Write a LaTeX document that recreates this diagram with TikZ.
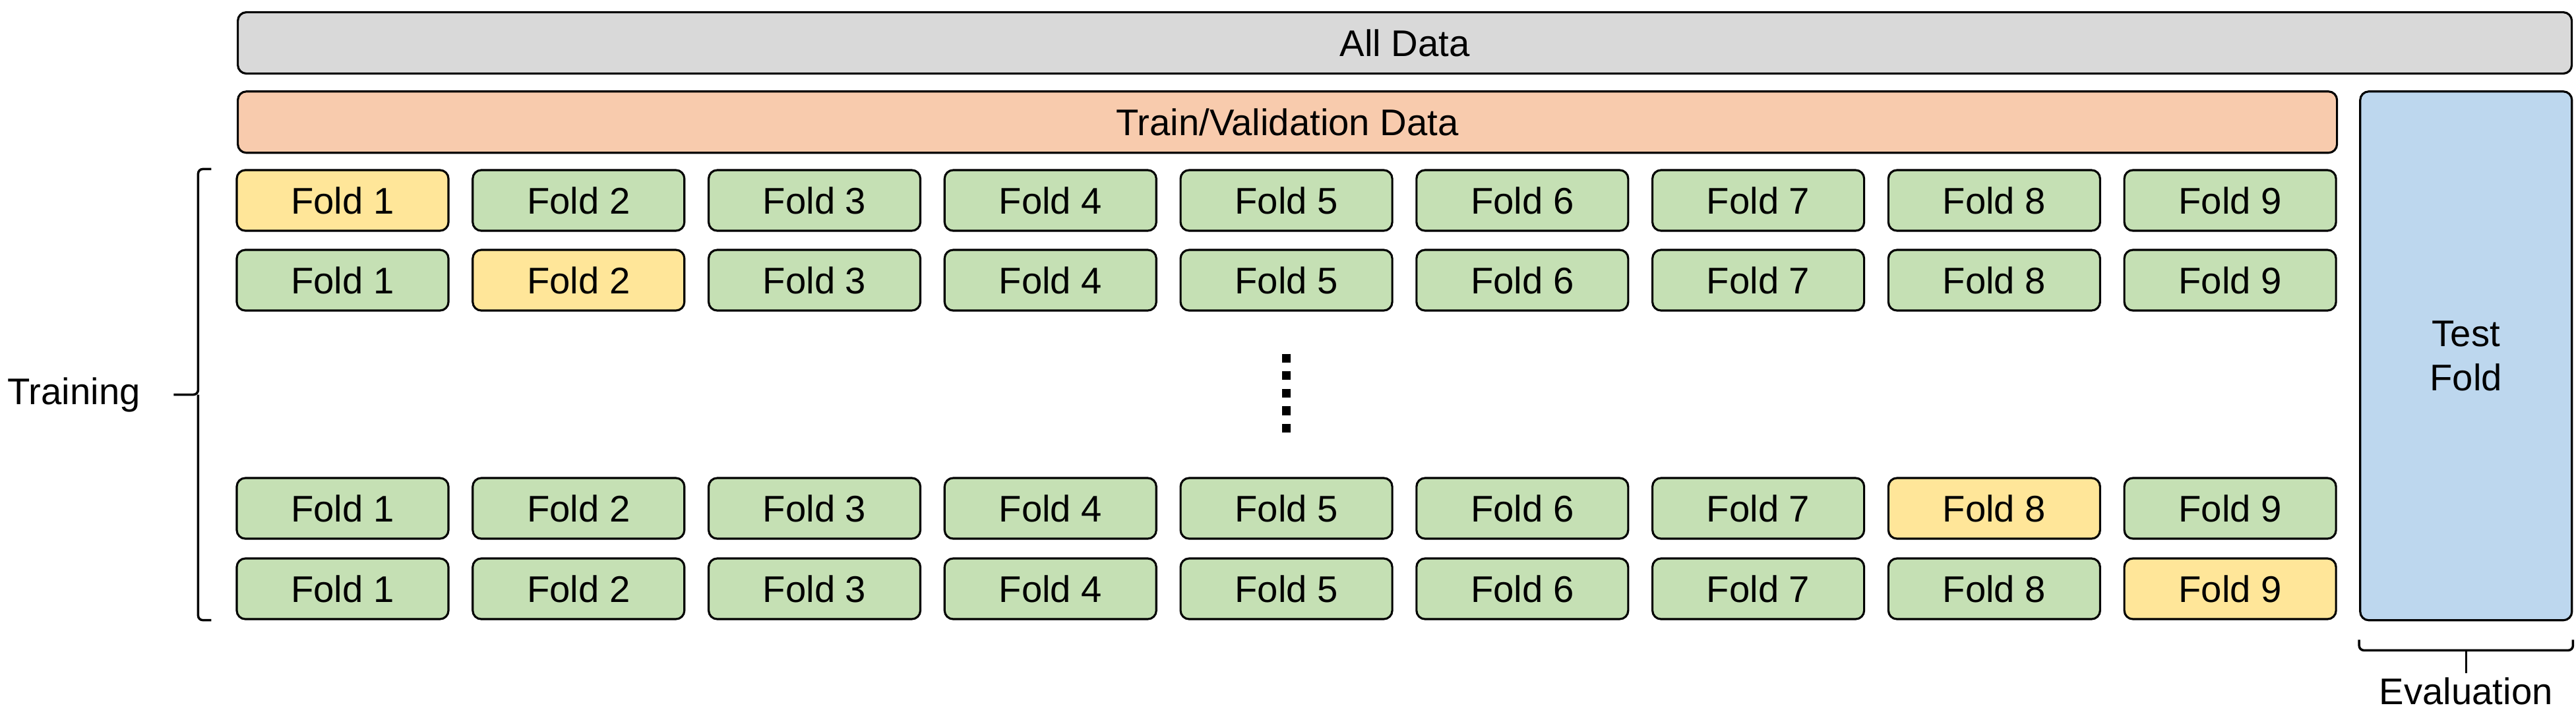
\documentclass[tikz,border=0pt]{standalone}
\usepackage{fontspec}
\setmainfont{Liberation Sans}
\usetikzlibrary{positioning,calc}
\definecolor{alldata}{HTML}{D9D9D9}
\definecolor{trainval}{HTML}{F8CBAD}
\definecolor{trainfold}{HTML}{C5E0B4}
\definecolor{heldout}{HTML}{FFE699}
\definecolor{testfold}{HTML}{BDD7EE}
\tikzset{
  box/.style={draw, line width=0.9pt, rounded corners=0.13cm, inner sep=0pt,
    font=\fontsize{16}{19}\selectfont},
  fold/.style={box, minimum width=3.21cm, minimum height=0.92cm},
  bar/.style={box, minimum height=0.93cm, anchor=north west},
  brace/.style={line width=1pt, rounded corners=2pt},
  dots/.style={line width=0.13cm, dash pattern=on 0.133cm off 0.133cm},
  lbl/.style={inner sep=0pt, font=\fontsize{16}{19}\selectfont}
}

\begin{document}
\begin{tikzpicture}[node distance=0.336cm]
    \useasboundingbox (0,0) rectangle (39.06,-10.88);
    \node[bar, fill=alldata, minimum width=35.39cm] (all) at (3.59,-0.17) {All Data};
    \node[bar, fill=trainval, minimum width=31.83cm, below=0.24cm of all.south west, anchor=north west] (tv) {Train/Validation Data};
    \node[bar, fill=testfold, minimum width=3.21cm, minimum height=8.02cm, align=center, right=0.32cm of tv.north east, anchor=north west] (test) {Test\\Fold};

    % folds, one row per split
    \foreach \r/\y/\hl in {1/-3.04/1, 2/-4.25/2, 3/-7.71/8, 4/-8.93/9} {
        \foreach \c in {1,...,9} {
            \ifnum\c=\hl \def\fc{heldout}\else \def\fc{trainfold}\fi
            \pgfmathtruncatemacro\p{\c-1}
            \ifnum\c=1
                \node[fold, fill=\fc] (r\r c\c) at (5.195,\y) {Fold \c};
            \else
                \node[fold, fill=\fc, right=of r\r c\p] (r\r c\c) {Fold \c};
            \fi
        }
    }

    \draw[dots] ($(r2c5.south)+(0,-0.64)$) -- ($(r3c5.north)+(0,0.55)$);

    % training brace
    \coordinate (btop) at ($(r1c1.north west)+(-0.37,0)$);
    \coordinate (bbot) at ($(r4c1.south west)+(-0.37,0)$);
    \coordinate (bmid) at ($(btop)!0.5!(bbot)$);
    \draw[brace] (btop) -- ++(-0.2,0) -- ($(bmid)+(-0.2,0)$) -- ++(-0.37,0) coordinate (btip);
    \draw[brace] ($(bmid)+(-0.2,0)$) |- (bbot);
    \node[lbl, left=0.5cm of btip] (train) {Training};

    % evaluation brace
    \coordinate (eL) at ($(test.south west)+(0,-0.28)$);
    \coordinate (eR) at ($(test.south east)+(0,-0.28)$);
    \draw[brace] (eL) -- ++(0,-0.16) -| (eR);
    \draw[brace] ($(eL)!0.5!(eR)+(0,-0.16)$) -- ++(0,-0.35) coordinate (etip);
    \node[lbl, below=0.06cm of etip] (eval) {Evaluation};
\end{tikzpicture}
\end{document}
